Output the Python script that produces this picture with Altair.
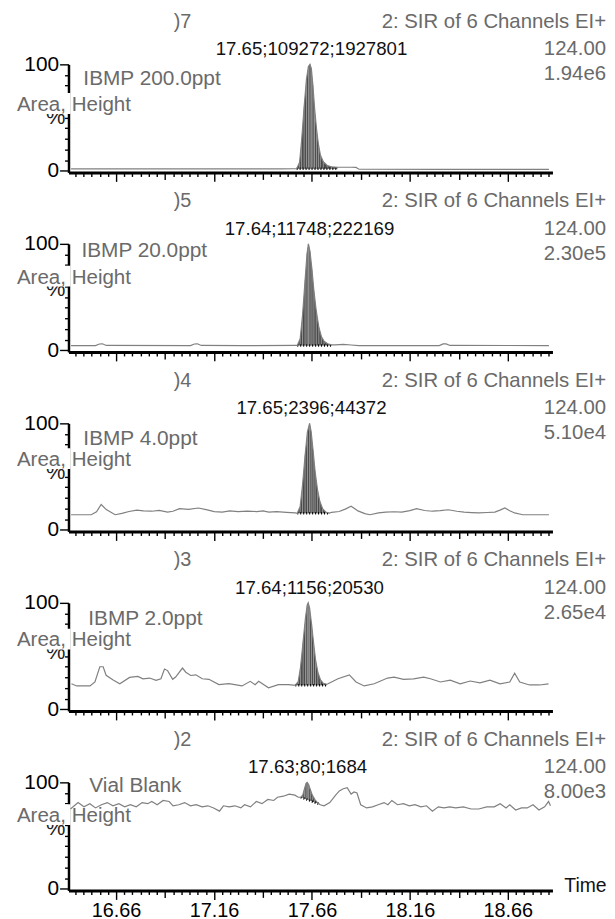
import altair as alt
import pandas as pd

FONT = "Liberation Sans"
GRAY_TXT = "#6a6a6a"
X_DOMAIN = [16.417, 18.888]
W, H = 488, 109

# axis tick positions (minutes) and y ticks (%)
x_ticks = [round(16.66 + k / 24, 4) for k in range(-5, 54)]
y_ticks = [0, 10, 20, 30, 40, 50, 60, 70, 80, 90, 100]

headers = [")7", ")5", ")4", ")3", ")2"]
samples = ["IBMP 200.0ppt", "IBMP 20.0ppt", "IBMP 4.0ppt", "IBMP 2.0ppt", "Vial Blank"]
scale_txt = ["1.94e6", "2.30e5", "5.10e4", "2.65e4", "8.00e3"]
peak_rt = [17.65, 17.64, 17.65, 17.64, 17.63]
peak_labels = ["17.65;109272;1927801", "17.64;11748;222169", "17.65;2396;44372",
               "17.64;1156;20530", "17.63;80;1684"]
channel_txt = "2: SIR of 6 Channels EI+"
mass_txt = "124.00"

# text offsets per panel (px, relative to plot)
sample_x = [15, 13, 15, 20, 21]
sample_y = [15, 7, 16, 16, 4]
area_y = [41, 34, 37, 38, 34]

# ---------------- traces (time in min, intensity in %) ----------------
t1 = [16.43, 16.80, 17.20, 17.50, 17.575, 17.80, 17.86, 17.885, 17.90, 18.30, 18.87]
v1 = [1.8, 1.8, 1.9, 1.9, 2.0, 3.4, 3.4, 3.2, 1.5, 1.4, 1.4]
pk1_t = [17.582, 17.597, 17.607, 17.620, 17.632, 17.642, 17.650, 17.657, 17.665, 17.673,
         17.683, 17.693, 17.703, 17.718, 17.738, 17.760, 17.790]
pk1_v = [2.0, 8, 28, 60, 86, 98, 100, 96, 80, 60, 40, 25, 15, 8.5, 5, 3.8, 3.4]
pk1_b = [2.0] * len(pk1_t)

t2 = [16.43, 16.555, 16.575, 16.59, 16.61, 17.04, 17.06, 17.075, 17.095, 17.30, 17.575,
      17.78, 17.82, 17.86, 17.90, 18.31, 18.33, 18.345, 18.365, 18.87]
v2 = [4.5, 4.5, 6.0, 6.2, 4.6, 4.5, 6.0, 6.2, 4.6, 4.5, 4.6,
      5.2, 5.6, 5.0, 4.5, 4.5, 6.0, 6.1, 4.6, 4.5]
pk2_t = [17.585, 17.600, 17.612, 17.625, 17.635, 17.642, 17.650, 17.660, 17.670, 17.682,
         17.695, 17.708, 17.722, 17.740, 17.760]
pk2_v = [4.6, 11, 33, 66, 91, 100, 93, 76, 56, 37, 22, 13, 8.5, 6.2, 5.2]
pk2_b = [4.6] * len(pk2_t)

t3 = [16.43, 16.533, 16.56, 16.584, 16.61, 16.655, 16.69, 16.726, 16.766, 16.80, 16.842,
      16.88, 16.923, 16.95, 16.984, 17.03, 17.08, 17.12, 17.161, 17.202, 17.24, 17.283,
      17.33, 17.379, 17.41, 17.44, 17.48, 17.53, 17.575,
      17.76, 17.799, 17.83, 17.86, 17.895, 17.93, 17.956, 18.00, 18.037, 18.08, 18.118,
      18.16, 18.194, 18.235, 18.275, 18.315, 18.356, 18.40, 18.437, 18.475, 18.513,
      18.555, 18.594, 18.62, 18.645, 18.67, 18.695, 18.736, 18.87]
v3 = [14.2, 14.2, 17, 23.8, 19, 14.2, 15.5, 17.2, 18.5, 17.8, 17.5,
      18.2, 16.6, 17.5, 19.9, 19.2, 20.5, 19.0, 17.2, 16.6, 17.8, 17.2,
      17.6, 17.2, 17.8, 16.6, 17.2, 16.5, 15.9,
      16.5, 17.2, 19.5, 22.2, 17.8, 15.2, 14.2, 16.0, 16.6, 17.0, 16.6,
      18.0, 19.9, 18.2, 17.5, 18.0, 18.9, 17.5, 16.6, 16.2, 15.9,
      16.3, 16.6, 18.5, 20.5, 18.0, 15.9, 14.2, 14.2]
pk3_t = [17.585, 17.600, 17.612, 17.625, 17.637, 17.648, 17.656, 17.666, 17.676, 17.688,
         17.700, 17.714, 17.730, 17.749]
pk3_v = [15.6, 22, 42, 70, 92, 100, 92, 74, 55, 38, 27, 20, 16.8, 15.8]
pk3_b = [15.5] * len(pk3_t)

t4 = [16.432, 16.459, 16.527, 16.552, 16.577, 16.594, 16.609, 16.645, 16.679, 16.729,
      16.771, 16.797, 16.831, 16.864, 16.889, 16.907, 16.923, 16.949, 16.964, 16.999,
      17.016, 17.041, 17.067, 17.100, 17.134, 17.185, 17.236, 17.303, 17.345, 17.370,
      17.388, 17.438, 17.489, 17.540, 17.565,
      17.742, 17.793, 17.851, 17.885, 17.927, 17.978, 18.046, 18.079, 18.128, 18.179,
      18.230, 18.265, 18.316, 18.366, 18.417, 18.468, 18.518, 18.569, 18.620, 18.670,
      18.695, 18.721, 18.771, 18.822, 18.868]
v4 = [24, 22, 22, 25.7, 40, 40, 32, 27.5, 24, 30,
      31, 28.7, 29.4, 27.2, 28.7, 37.9, 36.4, 28.2, 30.3, 38.8,
      34.9, 31.8, 32.4, 28.7, 28.2, 23.2, 24.1, 22, 26.3, 23.2,
      26.3, 20.2, 23.2, 23.2, 22.7,
      24, 28.7, 32.4, 25.7, 22, 24, 29.4, 30.3, 28.2, 28.7,
      30.3, 28.7, 25.7, 27.5, 23.9, 26.6, 24.8, 27.5, 23.9, 25.7,
      34, 25.7, 22.9, 22.9, 23.9]
pk4_t = [17.575, 17.590, 17.602, 17.615, 17.627, 17.636, 17.641, 17.648, 17.658, 17.668,
         17.678, 17.690, 17.703, 17.718, 17.735]
pk4_v = [22.7, 26, 40, 64, 86, 98, 100, 95, 80, 63, 47, 35, 28, 24.5, 23.5]
pk4_b = [22.6] * len(pk4_t)

t5 = [16.427, 16.466, 16.496, 16.526, 16.555, 16.585, 16.615, 16.644, 16.674, 16.704,
      16.733, 16.763, 16.793, 16.822, 16.842, 16.87, 16.90, 16.931, 16.951, 16.980,
      17.010, 17.040, 17.069, 17.099, 17.129, 17.158, 17.188, 17.208, 17.237, 17.267,
      17.297, 17.316, 17.346, 17.376, 17.405, 17.435, 17.465, 17.484, 17.514, 17.544,
      17.573, 17.590,
      17.722, 17.751, 17.781, 17.800, 17.820, 17.840, 17.860, 17.875, 17.890, 17.909,
      17.939, 17.969, 17.998, 18.028, 18.048, 18.068, 18.097, 18.127, 18.157, 18.186,
      18.216, 18.245, 18.275, 18.305, 18.334, 18.364, 18.394, 18.433, 18.473, 18.512,
      18.552, 18.591, 18.621, 18.651, 18.670, 18.700, 18.730, 18.759, 18.789, 18.819,
      18.848, 18.868, 18.878]
v5 = [75, 81, 77, 80, 76, 79, 81, 78, 80, 77,
      79, 77, 81, 80, 82, 79, 83, 82, 78, 79,
      81, 78, 79, 77, 78, 76, 73, 78, 77, 78,
      76, 79, 77, 82, 80, 84, 83, 86, 87, 89,
      88, 86,
      78, 81, 88, 92, 94, 95, 89, 91, 90, 79,
      76, 77, 79, 81, 79, 83, 79, 80, 78, 79,
      77, 78, 73, 77, 76, 77, 76, 77, 75, 75,
      77, 77, 80, 76, 79, 74, 76, 76, 79, 74,
      77, 82, 78]
pk5_t = [17.603, 17.613, 17.622, 17.630, 17.636, 17.643, 17.652, 17.662, 17.674, 17.688, 17.702]
pk5_v = [86, 88, 94, 99, 100, 98, 93, 88, 84, 81, 79]
pk5_b = [86, 85.3, 84.7, 84.2, 83.8, 83.3, 82.7, 82, 81.2, 80.3, 79.3]

traces = [(t1, v1), (t2, v2), (t3, v3), (t4, v4), (t5, v5)]
peaks = [(pk1_t, pk1_v, pk1_b), (pk2_t, pk2_v, pk2_b), (pk3_t, pk3_v, pk3_b),
         (pk4_t, pk4_v, pk4_b), (pk5_t, pk5_v, pk5_b)]

one = pd.DataFrame({"d": [0]})

K = "round((datum.value - 16.66) * 24)"
X_MAJOR = f"abs({K} % 12) == 0"
X_MED = f"abs({K} % 12) == 6"
Y_MAJOR = "datum.value == 0 || datum.value == 100"


def x_enc(show_labels):
    return alt.X(
        "t:Q",
        scale=alt.Scale(domain=X_DOMAIN, nice=False, zero=False),
        axis=alt.Axis(
            values=x_ticks, title=None, grid=False, labels=show_labels,
            labelExpr=f"({X_MAJOR}) ? format(datum.value, '.2f') : ''",
            labelOverlap=False, labelFlush=False, labelBound=False,
            labelFont=FONT, labelFontSize=20, labelColor="black", labelPadding=1,
            tickSize={"condition": [{"test": X_MAJOR, "value": 9},
                                    {"test": X_MED, "value": 7}], "value": 4},
            tickColor="black", tickWidth=1.4,
            domainColor="black", domainWidth=3,
        ),
    )


def y_enc(field="v"):
    return alt.Y(
        f"{field}:Q",
        scale=alt.Scale(domain=[-1.5, 100], nice=False, zero=False),
        axis=alt.Axis(
            values=y_ticks, title=None, grid=False,
            labelExpr=f"({Y_MAJOR}) ? datum.label : ''",
            labelOverlap=False, labelFlush=False, labelBound=False,
            labelFont=FONT, labelFontSize=21, labelColor="black", labelPadding=1,
            tickSize={"condition": {"test": Y_MAJOR, "value": 9}, "value": 4},
            tickColor="black", tickWidth=1.4,
            domainColor="black", domainWidth=2.5,
        ),
    )


def txt(s, x, y, size, color, align="left"):
    return alt.Chart(one).mark_text(
        text=s, align=align, baseline="middle", font=FONT, fontSize=size, color=color
    ).encode(x=alt.value(x), y=alt.value(y))


def panel(i, last):
    tt, vv = traces[i]
    pt, pv, pb = peaks[i]
    tr = pd.DataFrame({"t": tt + pt, "v": vv + pv}).sort_values("t")
    pk = pd.DataFrame({"t": pt, "v": pv, "b": pb})
    xe = x_enc(last)
    ay = area_y[i]

    layers = [
        txt("%", -13, ay + 12, 22, "#222222", "center"),
        alt.Chart(one).mark_rect(color="white").encode(
            x=alt.value(-56), x2=alt.value(2), y=alt.value(ay - 12), y2=alt.value(ay + 9)),
        txt("Area, Height", -52, ay, 20.7, GRAY_TXT),
        txt(samples[i], sample_x[i], sample_y[i], 21, GRAY_TXT),
        txt(headers[i], 115, -43, 20, GRAY_TXT, "center"),
        txt(channel_txt, W + 54, -43, 20.5, GRAY_TXT, "right"),
        txt(mass_txt, W + 54, -15, 20.5, GRAY_TXT, "right"),
        txt(scale_txt[i], W + 54, 10, 20.5, GRAY_TXT, "right"),
        alt.Chart(pk).mark_area(color="#4a4a4a").encode(x=xe, y=y_enc(), y2="b:Q"),
        alt.Chart(pk).mark_rule(color="#a8a8a8", strokeWidth=0.8).encode(x=xe, y=y_enc(), y2="b:Q"),
        alt.Chart(pk).mark_line(color="black", strokeWidth=2.5, strokeDash=[1, 2]).encode(
            x=xe, y=y_enc("b")),
        alt.Chart(tr).mark_line(color="#808080", strokeWidth=1.2).encode(x=xe, y=y_enc()),
        alt.Chart(pd.DataFrame({"t": [peak_rt[i]], "lab": [peak_labels[i]]})).mark_text(
            align="center", baseline="middle", font=FONT, fontSize=18.8, color="#111111", dx=1.5
        ).encode(x=xe, y=alt.value(-15), text="lab:N"),
    ]
    if last:
        layers.append(txt("Time", W + 12, H - 4, 19.5, "#111111"))
    return alt.layer(*layers).properties(width=W, height=H)


chart = alt.vconcat(*[panel(i, i == 4) for i in range(5)], spacing=72, bounds="flush").properties(
    padding={"left": 5, "top": 0, "right": 0, "bottom": 0}
).configure_view(stroke=None)

chart.save("out.html", embed_options={"renderer": "svg", "actions": False})
